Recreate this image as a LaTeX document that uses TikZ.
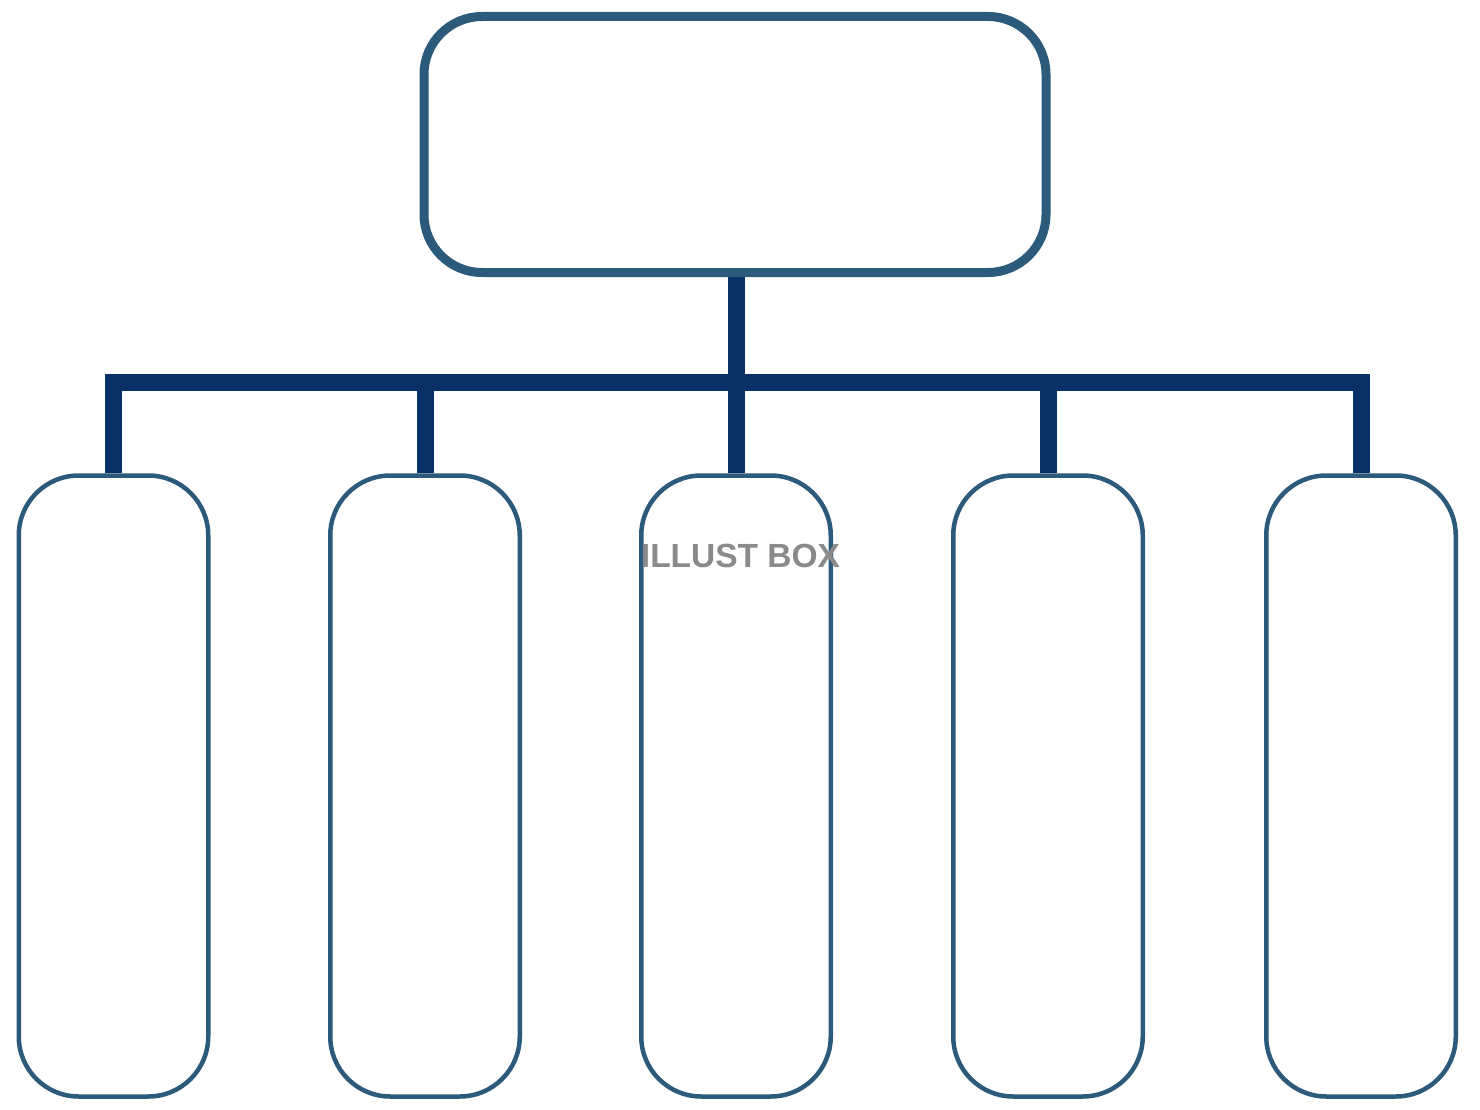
\documentclass[tikz,border=0pt]{standalone}
\usepackage{fontspec}
\newfontfamily\wmfont{Liberation Sans}
\usetikzlibrary{backgrounds}
\definecolor{boxblue}{RGB}{44,90,122}
\definecolor{linknavy}{RGB}{10,48,104}
\definecolor{wmgray}{RGB}{138,138,138}
\begin{document}
\begin{tikzpicture}[x=1pt,y=-1pt,
  topbox/.style={draw=boxblue,line width=9pt,rounded corners=58pt,minimum width=622pt,minimum height=256pt,inner sep=0pt},
  leafbox/.style={draw=boxblue,line width=4.5pt,rounded corners=60pt,minimum width=189.5pt,minimum height=621pt,inner sep=0pt},
  link/.style={draw=linknavy,line width=17pt,miter limit=10}]
\useasboundingbox (0,0) rectangle (1480,1110);
\node[topbox] (top) at (735,144.5) {};
\node[leafbox] (b1) at (113.5,786) {};
\node[leafbox] (b2) at (425,786) {};
\node[leafbox] (b3) at (736,786) {};
\node[leafbox] (b4) at (1048,786) {};
\node[leafbox] (b5) at (1361,786) {};
\coordinate (bar) at (0,382);
\begin{scope}[on background layer]
\draw[link] (b1.north) -- (b1.north |- bar) -- (b5.north |- bar) -- (b5.north);
\draw[link] (b2.north |- bar) -- (b2.north);
\draw[link] (b4.north |- bar) -- (b4.north);
\draw[link] (b3.north |- top.south) -- (b3.north);
\end{scope}
\node[text=wmgray,font=\wmfont\bfseries\fontsize{33.5pt}{36pt}\selectfont,inner sep=0pt] (wm) at (740.5,556) {ILLUST BOX};
\end{tikzpicture}
\end{document}
